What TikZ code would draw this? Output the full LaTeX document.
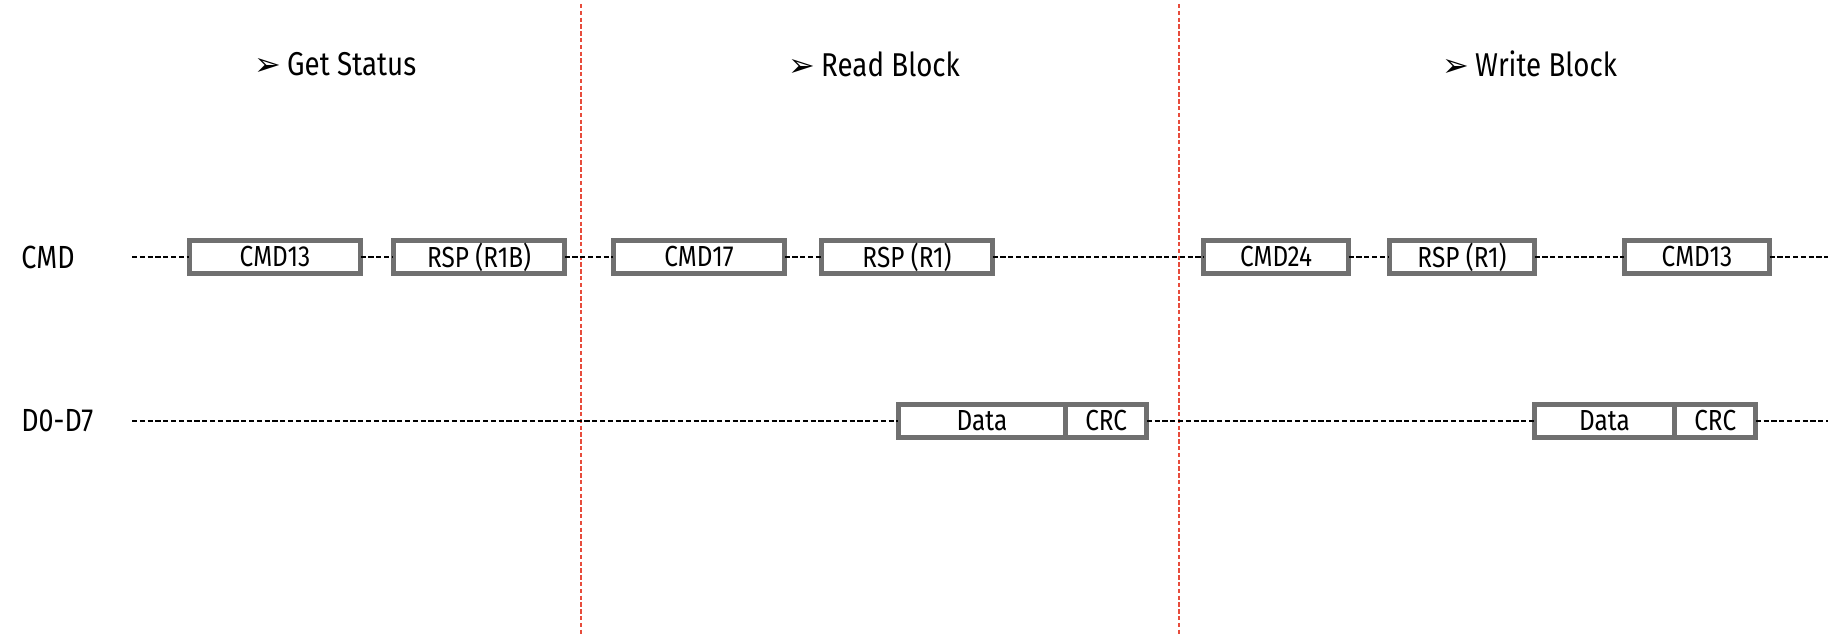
\documentclass[tikz,border=0pt]{standalone}
\usepackage{fontspec}
\setmainfont[FakeStretch=0.84]{Fira Sans}
\newfontfamily\dingfont{DejaVu Sans}
\usetikzlibrary{positioning}

\definecolor{framegray}{RGB}{112,112,112}
\definecolor{splitred}{RGB}{231,76,60}

\tikzset{
  frame/.style={draw=framegray, line width=2.4pt, fill=white, outer sep=0pt,
    inner sep=0pt, minimum height=16.3pt, font=\fontsize{14.5}{16}\selectfont},
  wide/.style={frame, minimum width=85.6pt},
  slim/.style={frame, minimum width=72.6pt},
  bus/.style={black, line width=0.6pt, dash pattern=on 2.6pt off 1.3pt},
  split/.style={splitred, line width=0.7pt, dash pattern=on 2.2pt off 1.2pt},
  signal/.style={anchor=west, inner sep=0pt, font=\fontsize{16}{18}\selectfont},
  heading/.style={anchor=west, inner sep=0pt, font=\fontsize{16.5}{20}\selectfont},
}
\newcommand{\bul}{\raisebox{0pt}{\dingfont\fontsize{16}{16}\selectfont\char"27A2}\hspace{3pt}}

\begin{document}
\begin{tikzpicture}[x=0.5pt, y=-0.5pt]
  \useasboundingbox (0,0) rectangle (1830,635);

  % dividers between the three transactions
  \coordinate (d1t) at (581,4);  \coordinate (d1b) at (581,635);
  \coordinate (d2t) at (1179,4); \coordinate (d2b) at (1179,635);
  \draw[split] (d1t) -- (d1b);
  \draw[split] (d2t) -- (d2b);

  % transaction titles
  \node[heading] (hstat)  at (254,64)  {\bul Get Status};
  \node[heading] (hread)  at (788,64)  {\bul Read Block};
  \node[heading] (hwrite) at (1442,64) {\bul Write Block};

  % signal names and bus ends
  \node[signal] (lcmd) at (21,257) {CMD};
  \node[signal] (ldat) at (21,421) {D0-D7};
  \coordinate (cmdL) at (132,257); \coordinate (cmdR) at (1828,257);
  \coordinate (datL) at (132,421); \coordinate (datR) at (1828,421);

  % CMD line
  \node[wide] (c13)  at (275,257)  {CMD13};
  \node[wide] (r1b)  at (479,257)  {RSP (R1B)};
  \node[wide] (c17)  at (699,257)  {CMD17};
  \node[wide] (r1)   at (907,257)  {RSP (R1)};
  \node[slim] (c24)  at (1276,257) {CMD24};
  \node[slim] (r1w)  at (1462,257) {RSP (R1)};
  \node[slim] (c13w) at (1697,257) {CMD13};

  % data lines
  \node[frame, minimum width=83.6pt] (dat1) at (982,421) {Data};
  \node[frame, minimum width=40.6pt, right=0pt of dat1] (crc1) {CRC};
  \node[frame, minimum width=70.1pt] (dat2) at (1604.5,421) {Data};
  \node[frame, minimum width=40.6pt, right=0pt of dat2] (crc2) {CRC};

  \draw[bus] (cmdL) -- (c13) -- (r1b) -- (c17) -- (r1) -- (c24) -- (r1w) -- (c13w) -- (cmdR);
  \draw[bus] (datL) -- (dat1) (crc1) -- (dat2) (crc2) -- (datR);
\end{tikzpicture}
\end{document}
